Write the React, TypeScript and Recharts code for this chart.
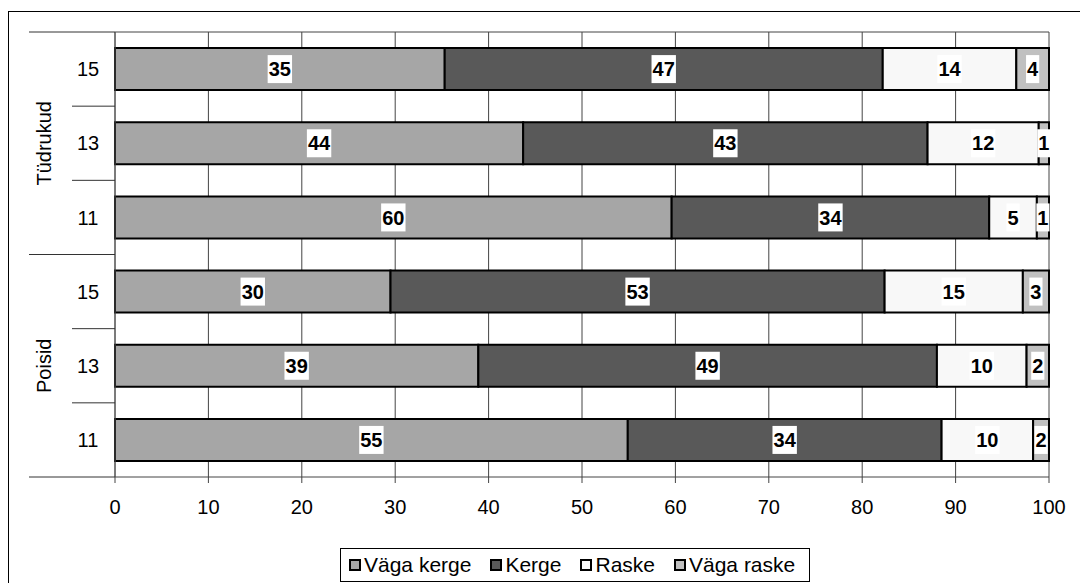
import React from 'react';
import { BarChart, Bar, XAxis, YAxis, CartesianGrid, Legend, LabelList } from 'recharts';

const rowIds = ['T15', 'T13', 'T11', 'P15', 'P13', 'P11'];
const ages = ['15', '13', '11', '15', '13', '11'];
const groupNames = ['Tüdrukud', 'Poisid'];
const vagaKerge = [35.3, 43.7, 59.6, 29.5, 38.9, 54.9];
const kerge = [46.9, 43.3, 34.0, 52.9, 49.1, 33.6];
const raske = [14.3, 11.9, 5.1, 14.8, 9.6, 9.8];
const vagaRaske = [3.5, 1.1, 1.3, 2.8, 2.4, 1.7];
const xTicks = [0, 10, 20, 30, 40, 50, 60, 70, 80, 90, 100];
const seriesKeys = ['vagaKerge', 'kerge', 'raske', 'vagaRaske'];
const seriesNames = ['Väga kerge', 'Kerge', 'Raske', 'Väga raske'];
const seriesColors = ['#A6A6A6', '#595959', '#F8F8F8', '#C0C0C0'];

const data = rowIds.map((id, i) => ({
  id,
  vagaKerge: vagaKerge[i],
  kerge: kerge[i],
  raske: raske[i],
  vagaRaske: vagaRaske[i],
}));

const FONT = '"Liberation Sans", Arial, sans-serif';

const ValueLabel = (props: any) => {
  const { x, y, width, height, value } = props;
  const text = String(Math.round(Number(value)));
  const w = text.length * 11.2 + 2;
  const h = 28;
  const cx = Number(x) + Number(width) / 2;
  const cy = Number(y) + Number(height) / 2;
  return (
    <g>
      <rect x={cx - w / 2} y={cy - h / 2} width={w} height={h} fill="#ffffff" />
      <text
        x={cx}
        y={cy}
        dy="0.36em"
        textAnchor="middle"
        fontFamily={FONT}
        fontSize={20}
        fontWeight="bold"
        fill="#000"
      >
        {text}
      </text>
    </g>
  );
};

const CategoryTick = (props: any) => {
  const { x, y, index, height, visibleTicksCount } = props;
  const n = visibleTicksCount || rowIds.length;
  const band = height && n ? Number(height) / n : 74.17;
  const right = Number(x);
  const top = Number(y) - band / 2;
  const bottom = Number(y) + band / 2;
  const groupStart = index % 3 === 0;
  const lineColor = '#333';
  return (
    <g>
      <text
        x={right - 27}
        y={y}
        dy="0.36em"
        textAnchor="middle"
        fontFamily={FONT}
        fontSize={20}
        fill="#000"
      >
        {ages[index]}
      </text>
      <line
        x1={groupStart ? right - 86 : right - 43}
        x2={right}
        y1={top}
        y2={top}
        stroke={lineColor}
        strokeWidth={1}
      />
      {index === rowIds.length - 1 && (
        <line x1={right - 86} x2={right} y1={bottom} y2={bottom} stroke={lineColor} strokeWidth={1} />
      )}
      {index % 3 === 1 && (
        <text
          x={right - 71}
          y={y}
          dy="0.36em"
          textAnchor="middle"
          fontFamily={FONT}
          fontSize={20}
          fill="#000"
          transform={`rotate(-90 ${right - 71} ${y})`}
        >
          {groupNames[Math.floor(index / 3)]}
        </text>
      )}
    </g>
  );
};

const LegendBox = () => (
  <div style={{ lineHeight: 'normal' }}>
    <div
      style={{
        display: 'inline-flex',
        alignItems: 'center',
        border: '1px solid #000',
        height: 34,
        boxSizing: 'border-box',
        padding: '0 14px 0 8px',
        fontFamily: FONT,
        fontSize: 21,
        color: '#000',
        background: '#fff',
      }}
    >
      {seriesNames.map((name, i) => (
        <span
          key={name}
          style={{ display: 'inline-flex', alignItems: 'center', marginLeft: i ? 19 : 0 }}
        >
          <span
            style={{
              display: 'inline-block',
              width: 8,
              height: 8,
              border: '2px solid #000',
              background: seriesColors[i],
              marginRight: 3,
            }}
          />
          {name}
        </span>
      ))}
    </div>
  </div>
);

export default function App() {
  return (
    <div style={{ position: 'relative', width: 1080, height: 575, overflow: 'hidden', background: '#fff' }}>
      <div
        style={{
          position: 'absolute',
          left: 0,
          top: 3,
          width: 1200,
          height: 700,
          border: '1px solid #000',
          boxSizing: 'border-box',
        }}
      />
      <BarChart
        width={1080}
        height={575}
        data={data}
        layout="vertical"
        margin={{ top: 24, right: 39, bottom: 66, left: 0 }}
        barCategoryGap="21.7%"
      >
        <CartesianGrid
          horizontal={true}
          vertical={true}
          horizontalPoints={[24]}
          stroke="#444"
          strokeDasharray=""
        />
        <XAxis
          type="number"
          domain={[0, 100]}
          ticks={xTicks}
          interval={0}
          height={40}
          tickSize={6}
          tickMargin={17}
          axisLine={{ stroke: '#444' }}
          tickLine={{ stroke: '#444' }}
          tick={{ fontFamily: FONT, fontSize: 20, fill: '#000' }}
        />
        <YAxis
          type="category"
          dataKey="id"
          width={107}
          tickSize={0}
          tickMargin={0}
          tickLine={false}
          axisLine={{ stroke: '#555' }}
          interval={0}
          tick={<CategoryTick />}
        />
        <Legend
          verticalAlign="middle"
          align="center"
          layout="horizontal"
          wrapperStyle={{ left: 332, top: 540, width: 520, height: 34 }}
          content={<LegendBox />}
        />
        {seriesKeys.map((key, i) => (
          <Bar
            key={key}
            dataKey={key}
            name={seriesNames[i]}
            stackId="a"
            fill={seriesColors[i]}
            stroke="#000"
            strokeWidth={2}
            isAnimationActive={false}
          >
            <LabelList dataKey={key} content={<ValueLabel />} />
          </Bar>
        ))}
      </BarChart>
    </div>
  );
}
